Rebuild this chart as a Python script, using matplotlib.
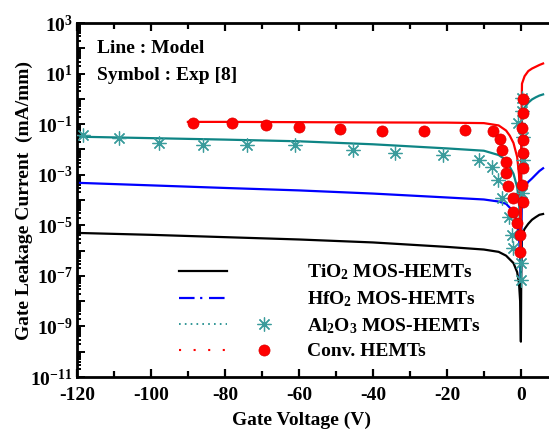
import numpy as np
import matplotlib
matplotlib.use('Agg')
import matplotlib.pyplot as plt
import matplotlib.ticker as mticker
from matplotlib.lines import Line2D
from matplotlib.legend_handler import HandlerTuple

plt.rcParams['font.family'] = 'Liberation Serif'
plt.rcParams['font.weight'] = 'bold'
plt.rcParams['axes.unicode_minus'] = False
plt.rcParams['mathtext.fontset'] = 'custom'
plt.rcParams['mathtext.rm'] = 'Liberation Serif:bold'
plt.rcParams['mathtext.it'] = 'Liberation Serif:bold'
plt.rcParams['mathtext.bf'] = 'Liberation Serif:bold'

# Model curves (gate voltage in V, leakage current in mA/mm)
v_model = [-120, -100, -80, -60, -40, -20, -10, -6, -4, -2, -1, -0.5, -0.2, 0,
           0.1, 0.3, 1, 2, 3, 4, 5, 6]
i_tio2 = [5.0e-6, 4.2e-6, 3.4e-6, 2.75e-6, 2.1e-6, 1.4e-6, 1.1e-6, 8.9e-7, 6.3e-7,
          3.2e-7, 1.4e-7, 5e-8, 1e-8, 2.5e-10, 1e-7, 4.2e-6, 7.2e-6, 1.15e-5,
          1.66e-5, 2.1e-5, 2.6e-5, 2.8e-5]
i_hfo2 = [4.8e-4, 3.8e-4, 3.0e-4, 2.4e-4, 1.8e-4, 1.26e-4, 1.05e-4, 8.7e-5, 7.1e-5,
          3.5e-5, 1.26e-5, 3.2e-6, 5e-7, 6.3e-8, 3.2e-6, 1.26e-4, 3.2e-4, 5.2e-4,
          7.1e-4, 1.0e-3, 1.4e-3, 1.8e-3]
i_al2o3 = [3.2e-2, 2.8e-2, 2.45e-2, 2.1e-2, 1.6e-2, 1.1e-2, 8.9e-3, 6.0e-3, 3.8e-3,
           1.1e-3, 3.2e-4, 7.9e-5, 1e-5, 7.9e-8, 1e-3, 0.2, 0.45, 0.71, 0.95, 1.15,
           1.35, 1.5]
v_conv = [-90, -80, -60, -40, -20, -10, -6, -4, -3, -2, -1, -0.5, -0.2, 0,
          0.1, 0.3, 1, 2, 3, 4, 5, 6]
i_conv = [0.123, 0.123, 0.12, 0.117, 0.115, 0.11, 0.089, 0.056, 0.035, 0.018,
          5.0e-3, 1e-3, 1e-4, 5e-7, 3.2e-2, 4.0, 7.9, 12.6, 15.8, 18.6, 21.9, 25.1]

# Experimental points [8]
v_exp_conv = [-88.6, -78, -69, -60, -49, -37.6, -26.2, -15.1, -7.6, -5.7, -5.1, -4.1,
              -4.1, -3.5, -2.2, -2.2, -1.1, -0.3, -0.3, 0.5, 0.5, 0.3, 0.5, 0.5,
              0.5, 0.3, 0.5]
i_exp_conv = [0.112, 0.112, 0.093, 0.078, 0.065, 0.054, 0.054, 0.059, 0.054, 0.026,
              9.5e-3, 3.2e-3, 1.17e-3, 3.6e-4, 1.2e-4, 3.4e-5, 1.26e-5, 4.2e-6,
              8.9e-7, 1.0, 0.275, 0.071, 0.024, 7.2e-3, 1.86e-3, 4.0e-4, 8.5e-5]
v_exp_al2o3 = [-118.4, -108.6, -97.8, -86, -74.1, -61, -45.4, -34, -21, -11.4, -7.8,
               -6.2, -5.1, -3.2, -2.4, -2.2, 0, 0, 0.3, 0.3, -0.8, 0.5, 0.5, 0.3]
i_exp_al2o3 = [0.037, 0.028, 0.018, 0.015, 0.015, 0.015, 9.5e-3, 7.2e-3, 6.0e-3,
               3.8e-3, 2.0e-3, 6.2e-4, 1.2e-4, 2.1e-5, 4.2e-6, 1.3e-6, 3.2e-7, 6.9e-8,
               1.1, 0.32, 0.11, 0.032, 3.9e-3, 1.9e-4]

labels = [r'TiO$_2$ MOS-HEMTs', r'HfO$_2$ MOS-HEMTs', r'Al$_2$O$_3$ MOS-HEMTs',
          'Conv. HEMTs']

teal = '#0e8585'
teal_marker = '#3a9c9c'

fig = plt.figure(figsize=(5.49, 4.32), dpi=100)
ax = fig.add_axes([0.140, 0.1273, 0.8627, 0.8194])

ax.plot(v_model, i_tio2, color='black', lw=1.6)
ax.plot(v_model, i_hfo2, color='blue', lw=1.6)
ax.plot(v_model, i_al2o3, color=teal, lw=1.6)
ax.plot(v_conv, i_conv, color='red', lw=1.6)
ax.plot(v_exp_al2o3, i_exp_al2o3, linestyle='none', marker=(8, 2, 0), ms=10,
        mec=teal_marker, mew=0.9, zorder=4)
ax.plot(v_exp_conv, i_exp_conv, linestyle='none', marker='o', ms=8,
        mfc='red', mec='#dd0000', mew=0.5, zorder=5)

ax.set_yscale('log')
ax.set_xlim(-120, 8)
ax.set_ylim(1e-11, 1e3)

ax.xaxis.set_major_locator(mticker.MultipleLocator(20))
ax.xaxis.set_minor_locator(mticker.MultipleLocator(10))
ax.yaxis.set_major_locator(mticker.LogLocator(base=10, numticks=30))
ax.yaxis.set_minor_locator(mticker.LogLocator(base=10, subs=np.arange(2, 10), numticks=30))


def ylab(y, pos):
    e = int(round(np.log10(y)))
    if e % 2 == 0:
        return ''
    return r'$10^{%d}$' % e


ax.yaxis.set_major_formatter(mticker.FuncFormatter(ylab))
ax.yaxis.set_minor_formatter(mticker.NullFormatter())

ax.tick_params(axis='x', which='both', direction='in', top=True, width=1.6,
               labelsize=14, pad=7)
ax.tick_params(axis='x', which='major', length=6)
ax.tick_params(axis='x', which='minor', length=4)
ax.tick_params(axis='y', which='both', direction='in', right=False, width=1.4,
               labelsize=14, pad=3)
ax.tick_params(axis='y', which='major', length=6)
ax.tick_params(axis='y', which='minor', length=3)

for s in ['left', 'bottom', 'top']:
    ax.spines[s].set_linewidth(2)
ax.spines['right'].set_visible(False)

ax.set_xlabel('Gate Voltage (V)', fontsize=14, fontweight='bold')
ax.set_ylabel('Gate Leakage Current  (mA/mm)', fontsize=14, fontweight='bold')
ax.xaxis.set_label_coords(0.475, -0.099)
ax.yaxis.set_label_coords(-0.093, 0.5)

ax.text(0.042, 0.915, 'Line : Model', transform=ax.transAxes, fontsize=14,
        fontweight='bold', va='baseline')
ax.text(0.042, 0.839, 'Symbol : Exp [8]', transform=ax.transAxes, fontsize=14,
        fontweight='bold', va='baseline')

# legend proxies
blank = Line2D([], [], linestyle='none')
h_tio2 = Line2D([], [], color='black', lw=1.6)
h_hfo2 = Line2D([], [], color='blue', lw=1.6, linestyle=(0, (7, 2.5, 1, 3)))
h_al2o3 = Line2D([], [], color=teal, lw=1.2, linestyle=(0, (1, 2.5)))
h_conv = Line2D([], [], color='red', lw=1.5, linestyle=(0, (1, 6)))
m_al2o3 = Line2D([], [], linestyle='none', marker=(8, 2, 0), ms=10, mec=teal_marker, mew=0.9)
m_conv = Line2D([], [], linestyle='none', marker='o', ms=8, mfc='red', mec='#dd0000', mew=0.5)

ax.legend([(h_tio2, blank), (h_hfo2, blank), (h_al2o3, m_al2o3), (h_conv, m_conv)],
          labels, handler_map={tuple: HandlerTuple(ndivide=None, pad=0.67)},
          loc='upper left', bbox_to_anchor=(0.215, 0.323), frameon=False,
          fontsize=14, handlelength=5.6, handletextpad=1.0, labelspacing=0.36,
          numpoints=1, borderaxespad=0, borderpad=0)

fig.savefig('out.png', dpi=100)
